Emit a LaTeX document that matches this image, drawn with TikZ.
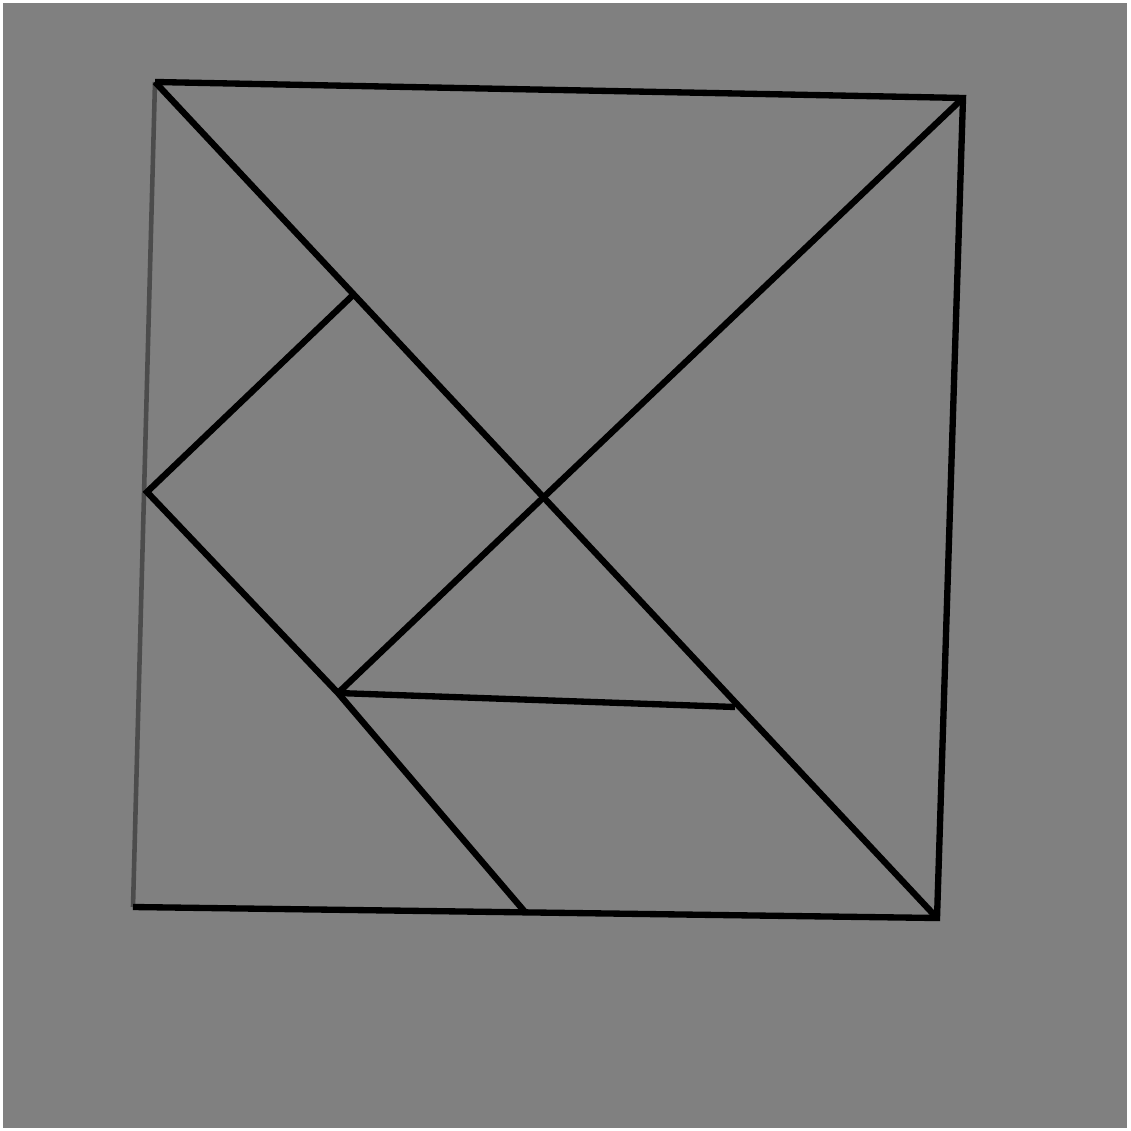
\documentclass[tikz,border=0pt]{standalone}
\usepackage{tikz}
\usetikzlibrary{calc}

\begin{document}
\begin{tikzpicture}[x=0.01cm,y=-0.01cm]

   \fill[white] (0,0) rectangle (1130,1131);
   \fill[gray] (3,3) rectangle (1127,1128);
   \useasboundingbox (0,0) rectangle (1130,1131);

   % outer square
   \coordinate (tl) at (155,82);
   \coordinate (tr) at (963,98);
   \coordinate (br) at (937,918);
   \coordinate (bl) at (133,907);
   % inner points
   \coordinate (mid) at (545,498);
   \coordinate (sqtop) at (352,296);
   \coordinate (sqleft) at (147,492);
   \coordinate (sqbot) at (338,693);
   \coordinate (bmid) at (525,912);
   \coordinate (tri) at (735,707);

   \draw[black!70, line width=1.3pt] (tl) -- (bl);
   \draw[black, line width=1.8pt] (bl) -- (br) -- (tr) -- (tl);

   \draw[black, line width=1.8pt] (tl) -- (br);
   \draw[black, line width=1.8pt] (tr) -- (sqbot);
   \draw[black, line width=1.8pt] (sqtop) -- (sqleft) -- (sqbot) -- (bmid);
   \draw[black, line width=1.8pt] (sqbot) -- (tri);
  \end{tikzpicture}
\end{document}
